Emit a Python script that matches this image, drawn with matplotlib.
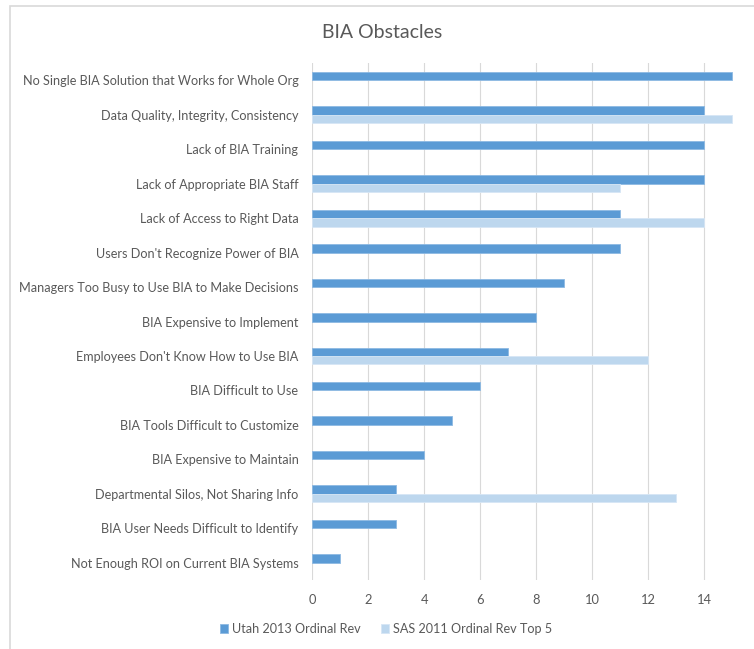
import numpy as np
import matplotlib.pyplot as plt
from matplotlib.patches import Rectangle

# data
categories = [
    "No Single BIA Solution that Works for Whole Org",
    "Data Quality, Integrity, Consistency",
    "Lack of BIA Training",
    "Lack of Appropriate BIA Staff",
    "Lack of Access to Right Data",
    "Users Don't Recognize Power of BIA",
    "Managers Too Busy to Use BIA to Make Decisions",
    "BIA Expensive to Implement",
    "Employees Don't Know How to Use BIA",
    "BIA Difficult to Use",
    "BIA Tools Difficult to Customize",
    "BIA Expensive to Maintain",
    "Departmental Silos, Not Sharing Info",
    "BIA User Needs Difficult to Identify",
    "Not Enough ROI on Current BIA Systems",
]
utah_2013 = [15, 14, 14, 14, 11, 11, 9, 8, 7, 6, 5, 4, 3, 3, 1]
sas_2011 = [0, 15, 0, 11, 14, 0, 0, 0, 12, 0, 0, 0, 13, 0, 0]
series_names = ["Utah 2013 Ordinal Rev", "SAS 2011 Ordinal Rev Top 5"]
xticks = [0, 2, 4, 6, 8, 10, 12, 14]

plt.rcParams['font.family'] = ['Lato', 'DejaVu Sans']
text_col = '#595959'

fig = plt.figure(figsize=(7.54, 6.49), dpi=100)

# chart border (cut off on the right and bottom in the reference)
fig.patches.append(Rectangle((10 / 754, -0.1), 1.2, 1.1 - 6 / 649,
                             transform=fig.transFigure, fill=False,
                             edgecolor='#D9D9D9', linewidth=1.2))

ax = fig.add_axes([0.4142, 0.1063, 0.5682, 0.7966])

y = np.arange(len(categories))
h = 0.245
ax.barh(y - h / 2, utah_2013, height=h, color='#5B9BD5',
        edgecolor='#8DB9E3', linewidth=0.6, label=series_names[0], zorder=3)
sas = np.array(sas_2011, dtype=float)
sas[sas == 0] = np.nan
ax.barh(y + h / 2, sas, height=h, color='#BDD7EE',
        edgecolor='#D6E6F5', linewidth=0.6, label=series_names[1], zorder=3)

ax.set_ylim(len(categories) - 0.5, -0.5)
ax.set_xlim(0, 15.3)
ax.set_yticks(y)
ax.set_yticklabels(categories, fontsize=9.05, color=text_col)
ax.set_xticks(xticks)
ax.set_xticklabels([str(t) for t in xticks], fontsize=9.3, color=text_col)
ax.tick_params(length=0)
ax.tick_params(axis='y', pad=10)
ax.tick_params(axis='x', pad=10)
ax.grid(axis='x', color='#D9D9D9', linewidth=0.8, zorder=0)
ax.set_axisbelow(True)
for s in ax.spines.values():
    s.set_visible(False)

fig.text(0.507, 1 - 32 / 649, "BIA Obstacles", ha='center', va='center',
         fontsize=14, color=text_col)

fig.legend(loc='center', bbox_to_anchor=(0.512, 1 - 629 / 649), ncol=2,
           frameon=False, fontsize=9.1, handlelength=0.65, handleheight=0.65,
           handletextpad=0.3, columnspacing=1.6, labelcolor=text_col)

fig.savefig('out.png', dpi=100)
